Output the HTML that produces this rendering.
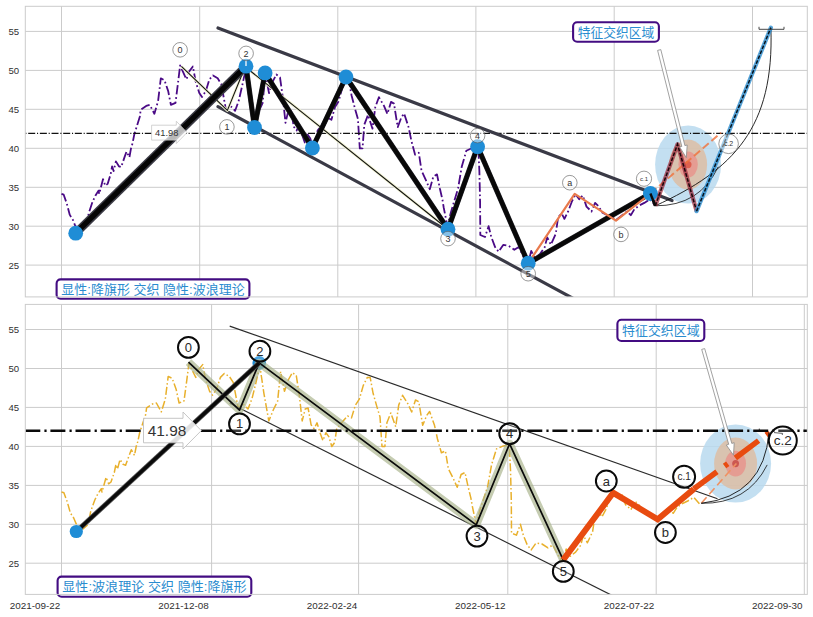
<!DOCTYPE html>
<html lang="zh"><head><meta charset="utf-8"><title>chart</title>
<style>html,body{margin:0;padding:0;background:#fff}svg{display:block}</style></head>
<body>
<svg width="813" height="617" viewBox="0 0 813 617" font-family="Liberation Sans, Noto Sans CJK SC, sans-serif">
<defs>
<clipPath id="ct"><rect x="25.3" y="6.3" width="782.0" height="290.59999999999997"/></clipPath>
<clipPath id="cb"><rect x="25.3" y="304.4" width="782.0" height="290.0"/></clipPath>
</defs>
<rect width="813" height="617" fill="#fff"/>
<line x1="25.3" x2="807.3" y1="31.4" y2="31.4" stroke="#cbcbcb" stroke-width="1"/>
<line x1="25.3" x2="807.3" y1="329.5" y2="329.5" stroke="#cbcbcb" stroke-width="1"/>
<line x1="25.3" x2="807.3" y1="70.4" y2="70.4" stroke="#cbcbcb" stroke-width="1"/>
<line x1="25.3" x2="807.3" y1="368.5" y2="368.5" stroke="#cbcbcb" stroke-width="1"/>
<line x1="25.3" x2="807.3" y1="109.3" y2="109.3" stroke="#cbcbcb" stroke-width="1"/>
<line x1="25.3" x2="807.3" y1="407.40000000000003" y2="407.40000000000003" stroke="#cbcbcb" stroke-width="1"/>
<line x1="25.3" x2="807.3" y1="148.3" y2="148.3" stroke="#cbcbcb" stroke-width="1"/>
<line x1="25.3" x2="807.3" y1="446.40000000000003" y2="446.40000000000003" stroke="#cbcbcb" stroke-width="1"/>
<line x1="25.3" x2="807.3" y1="187.3" y2="187.3" stroke="#cbcbcb" stroke-width="1"/>
<line x1="25.3" x2="807.3" y1="485.40000000000003" y2="485.40000000000003" stroke="#cbcbcb" stroke-width="1"/>
<line x1="25.3" x2="807.3" y1="226.2" y2="226.2" stroke="#cbcbcb" stroke-width="1"/>
<line x1="25.3" x2="807.3" y1="524.3" y2="524.3" stroke="#cbcbcb" stroke-width="1"/>
<line x1="25.3" x2="807.3" y1="265.1" y2="265.1" stroke="#cbcbcb" stroke-width="1"/>
<line x1="25.3" x2="807.3" y1="563.2" y2="563.2" stroke="#cbcbcb" stroke-width="1"/>
<line x1="61.5" x2="61.5" y1="6.3" y2="296.9" stroke="#cbcbcb" stroke-width="1"/>
<line x1="199.7" x2="199.7" y1="6.3" y2="296.9" stroke="#cbcbcb" stroke-width="1"/>
<line x1="337.8" x2="337.8" y1="6.3" y2="296.9" stroke="#cbcbcb" stroke-width="1"/>
<line x1="475.9" x2="475.9" y1="6.3" y2="296.9" stroke="#cbcbcb" stroke-width="1"/>
<line x1="614.2" x2="614.2" y1="6.3" y2="296.9" stroke="#cbcbcb" stroke-width="1"/>
<line x1="752.5" x2="752.5" y1="6.3" y2="296.9" stroke="#cbcbcb" stroke-width="1"/>
<line x1="61.5" x2="61.5" y1="304.4" y2="594.4" stroke="#cbcbcb" stroke-width="1"/>
<line x1="211.6" x2="211.6" y1="304.4" y2="594.4" stroke="#cbcbcb" stroke-width="1"/>
<line x1="358.6" x2="358.6" y1="304.4" y2="594.4" stroke="#cbcbcb" stroke-width="1"/>
<line x1="507.8" x2="507.8" y1="304.4" y2="594.4" stroke="#cbcbcb" stroke-width="1"/>
<line x1="656.2" x2="656.2" y1="304.4" y2="594.4" stroke="#cbcbcb" stroke-width="1"/>
<line x1="804.3" x2="804.3" y1="304.4" y2="594.4" stroke="#cbcbcb" stroke-width="1"/>
<g clip-path="url(#ct)">
<ellipse cx="688.1" cy="164.6" rx="33" ry="39" fill="#b9d9ef" fill-opacity="0.85"/>
<ellipse cx="688.1" cy="164.6" rx="19" ry="25" fill="#e0b99a" fill-opacity="0.75"/>
<ellipse cx="688.1" cy="164.6" rx="9.7" ry="13" fill="#e88f88" fill-opacity="0.75"/>
<ellipse cx="688.1" cy="164.6" rx="3.4" ry="3.6" fill="#dd5a48" fill-opacity="0.9"/>
<polyline points="61.5,193.9 63.7,194.7 66.8,203.6 69.8,214.9 72.9,219.9 75.1,225.5 77.8,228.9 81.5,230.9 86.4,226.3 88.7,213.3 92.5,201.9 95.5,195.5 98.5,190.6 99.2,193.9 103.0,179.2 105.3,185.7 107.6,183.9 110.6,174.4 112.1,166.3 113.6,171.1 115.9,161.4 118.9,166.3 121.2,167.1 124.2,158.1 126.5,151.6 129.4,157.3 131.0,148.4 132.5,143.5 134.3,134.4 139.8,116.7 140.7,109.8 146.2,105.9 149.8,104.9 154.4,113.8 158.1,101.0 160.8,78.3 164.5,80.3 168.2,91.1 170.9,104.9 175.5,102.9 178.2,81.3 180.1,65.5 184.6,75.4 186.5,79.3 189.2,71.4 192.9,66.5 195.6,81.3 199.3,93.1 202.0,97.0 205.8,91.1 209.4,79.3 213.0,75.4 217.7,78.3 221.3,84.2 224.0,99.0 225.9,109.8 230.4,105.9 235.1,110.8 238.7,100.9 242.3,85.2 246.1,67.5 249.9,95.2 254.4,122.8 259.0,110.9 262.6,103.1 265.4,73.6 269.0,93.2 272.8,81.4 276.4,74.5 280.0,77.5 282.8,97.2 285.5,122.8 288.3,110.9 291.0,109.9 293.8,126.7 296.6,130.6 299.3,124.7 302.1,134.6 304.8,142.5 307.6,134.6 310.3,138.5 313.1,148.4 315.8,144.4 317.6,130.6 322.2,124.7 327.7,117.8 331.4,119.8 335.0,107.0 338.7,101.1 342.4,87.3 346.0,79.5 348.8,79.5 351.5,95.2 355.1,109.0 357.9,118.8 359.8,148.4 362.5,148.4 364.3,124.7 368.0,114.9 372.5,128.7 375.3,107.0 378.9,97.2 384.0,105.9 387.4,113.9 391.0,101.9 394.0,103.6 397.7,127.2 401.4,117.3 404.1,113.4 408.6,127.2 411.4,140.9 415.1,154.7 418.8,152.8 421.5,170.5 426.0,180.3 429.8,189.2 433.4,176.4 437.0,174.4 439.8,188.2 442.5,200.0 443.7,207.5 447.4,226.2 451.0,211.9 458.1,188.2 461.8,166.5 466.3,150.8 472.8,147.8 478.3,146.9 479.4,171.9 480.1,201.9 480.3,235.0 485.0,237.0 488.6,226.2 491.3,237.0 495.0,246.9 498.6,251.8 503.2,244.9 508.7,245.9 514.3,249.8 518.8,246.9 523.4,256.7 527.0,262.6 528.2,263.2 531.2,250.9 534.9,258.2 540.0,254.0 544.7,247.2 547.2,237.3 550.9,244.7 555.8,233.6 558.2,216.4 561.9,214.0 564.4,218.9 568.1,211.5 571.8,201.7 575.5,194.3 579.2,199.2 582.8,195.5 586.5,206.6 591.5,211.5 595.1,202.9 598.8,206.6 602.5,212.7 607.4,215.2 612.4,217.7 616.0,220.1 622.2,215.2 627.1,211.5 630.8,215.2 634.5,209.0 639.4,205.4 644.3,202.9 650.0,199.2 655.3,205.8" fill="none" stroke="#4a0a86" stroke-width="1.8" stroke-dasharray="9.4 2.7 1.7 2.7" stroke-linejoin="round"/>
<line x1="25.3" x2="152" y1="133.3" y2="133.3" stroke="#111" stroke-width="1.15" stroke-dasharray="7 1.8 1.1 1.76" stroke-dashoffset="8.76"/>
<line x1="186" x2="807.3" y1="133.3" y2="133.3" stroke="#111" stroke-width="1.15" stroke-dasharray="7 1.8 1.1 1.76" stroke-dashoffset="6.2"/>
<line x1="218" y1="28" x2="672" y2="200.6" stroke="#3a3a46" stroke-width="3.2" stroke-linecap="round"/>
<line x1="218" y1="106.6" x2="672" y2="351.8" stroke="#3a3a46" stroke-width="3.2" stroke-linecap="round"/>
<polyline points="181.4,66.4 227.4,110.4 245.2,66.8 448.0,229.2" fill="none" stroke="#f1f2d2" stroke-width="2.8" stroke-linejoin="round"/>
<polyline points="181.4,66.4 227.4,110.4 245.2,66.8 448.0,229.2" fill="none" stroke="#111" stroke-width="1.1" stroke-linejoin="round"/>
<line x1="75.7" y1="233.2" x2="246" y2="66.2" stroke="#3a3a44" stroke-width="8.2"/>
<line x1="75.7" y1="233.2" x2="246" y2="66.2" stroke="#050505" stroke-width="5.2"/>
<polyline points="246.0,66.2 254.5,127.5 265.1,72.9 312.4,148.0 346.0,77.0 448.0,229.2 477.6,146.7 528.2,263.2 650.4,193.5" fill="none" stroke="#2a2a30" stroke-width="5.2" stroke-linejoin="round"/>
<polyline points="246.0,66.2 254.5,127.5 265.1,72.9 312.4,148.0 346.0,77.0 448.0,229.2 477.6,146.7 528.2,263.2 650.4,193.5" fill="none" stroke="#080808" stroke-width="4.2" stroke-linejoin="round"/>
<path d="M151.6,125.2 H176.3 V121.2 L187,132.5 L176.3,143.6 V140.1 H151.6 Z" fill="#ffffff" fill-opacity="0.72" stroke="#c8c8c8" stroke-width="0.8"/>
<text x="166.7" y="135.9" font-size="9.3" text-anchor="middle" fill="#333">41.98</text>
<polyline points="528.2,263.2 574.7,193.8 616.0,220.6 650.4,193.5" fill="none" stroke="#e9794c" stroke-width="2.2" stroke-linejoin="round"/>
<line x1="650.4" y1="193.5" x2="721" y2="132.7" stroke="#f0703a" stroke-opacity="0.8" stroke-width="2" stroke-dasharray="8 3.5"/>
<line x1="650.4" y1="193.5" x2="655.3" y2="205.8" stroke="#0a0a0a" stroke-width="3"/>
<path d="M655.3,205.8 C734.2,169.7 774.3,127.4 770.9,28" fill="none" stroke="#111" stroke-width="0.9"/>
<path d="M655.3,205.8 Q700,206 718.2,166.8" fill="none" stroke="#111" stroke-width="0.8"/>
<polyline points="655.3,205.8 677.5,144.3 696.6,211.2" fill="none" stroke="#9a2a3c" stroke-opacity="0.72" stroke-width="4.2" stroke-linejoin="round"/>
<polyline points="655.3,205.8 677.5,144.3 696.6,211.2" fill="none" stroke="#1a0508" stroke-width="1.5" stroke-dasharray="3.7 1.6"/>
<line x1="696.6" y1="211.2" x2="770.9" y2="27.6" stroke="#2e8fd1" stroke-opacity="0.8" stroke-width="4.2" stroke-linecap="round"/>
<line x1="696.6" y1="211.2" x2="770.9" y2="27.6" stroke="#06131d" stroke-width="1.5" stroke-dasharray="3.7 1.6"/>
<path d="M759,26.8 V29.3 H784 V26.8" fill="none" stroke="#333" stroke-width="0.9"/>
<circle cx="75.7" cy="233.2" r="7.4" fill="#1f8dd6"/>
<circle cx="246" cy="66.2" r="7.4" fill="#1f8dd6"/>
<circle cx="254.5" cy="127.5" r="7.4" fill="#1f8dd6"/>
<circle cx="265.1" cy="72.9" r="7.4" fill="#1f8dd6"/>
<circle cx="312.4" cy="148" r="7.4" fill="#1f8dd6"/>
<circle cx="346" cy="77" r="7.4" fill="#1f8dd6"/>
<circle cx="448" cy="229.2" r="7.4" fill="#1f8dd6"/>
<circle cx="477.6" cy="146.7" r="7.4" fill="#1f8dd6"/>
<circle cx="528.2" cy="263.2" r="7.4" fill="#1f8dd6"/>
<circle cx="650.4" cy="193.5" r="7.4" fill="#1f8dd6"/>
<line x1="650.4" y1="193.5" x2="655.3" y2="205.8" stroke="#0a0a0a" stroke-width="2.4"/>
<line x1="246" y1="60.5" x2="246" y2="66" stroke="#eaf4fb" stroke-width="1.4"/>
<path d="M657.6,50.4 L681.8,146.4 L679.6,146.9 L686.3,157.6 L687.2,145.0 L684.9,145.6 L660.8,49.6 Z" fill="#fff" stroke="#8a8a8a" stroke-width="0.8"/>
<circle cx="180.1" cy="49.8" r="7.3" fill="#fff" fill-opacity="0.45" stroke="#555" stroke-width="0.6"/>
<text x="180.1" y="52.9" font-size="9" text-anchor="middle" fill="#333">0</text>
<circle cx="226.9" cy="126.9" r="7.3" fill="#fff" fill-opacity="0.45" stroke="#555" stroke-width="0.6"/>
<text x="226.9" y="130.1" font-size="9" text-anchor="middle" fill="#333">1</text>
<circle cx="246.1" cy="53.4" r="7.3" fill="#fff" fill-opacity="0.45" stroke="#555" stroke-width="0.6"/>
<text x="246.1" y="56.5" font-size="9" text-anchor="middle" fill="#333">2</text>
<circle cx="448" cy="238.6" r="7.3" fill="#fff" fill-opacity="0.45" stroke="#555" stroke-width="0.6"/>
<text x="448" y="241.8" font-size="9" text-anchor="middle" fill="#333">3</text>
<circle cx="477.6" cy="135.6" r="7.3" fill="#fff" fill-opacity="0.45" stroke="#555" stroke-width="0.6"/>
<text x="477.6" y="138.8" font-size="9" text-anchor="middle" fill="#333">4</text>
<circle cx="528.2" cy="273.7" r="7.3" fill="#fff" fill-opacity="0.45" stroke="#555" stroke-width="0.6"/>
<text x="528.2" y="276.8" font-size="9" text-anchor="middle" fill="#333">5</text>
<circle cx="569.8" cy="182.7" r="7.3" fill="#fff" fill-opacity="0.45" stroke="#555" stroke-width="0.6"/>
<text x="569.8" y="185.8" font-size="9" text-anchor="middle" fill="#333">a</text>
<circle cx="621" cy="234.4" r="7.3" fill="#fff" fill-opacity="0.45" stroke="#555" stroke-width="0.6"/>
<text x="621" y="237.6" font-size="9" text-anchor="middle" fill="#333">b</text>
<circle cx="644" cy="178.7" r="7.6" fill="#fff" fill-opacity="0.45" stroke="#555" stroke-width="0.6"/>
<text x="644" y="180.8" font-size="6" text-anchor="middle" fill="#333">c.1</text>
<circle cx="728.6" cy="143.8" r="9.8" fill="#fff" fill-opacity="0.45" stroke="#555" stroke-width="0.6"/>
<text x="728.6" y="146.2" font-size="7" text-anchor="middle" fill="#333">c.2</text>
</g>
<rect x="56.6" y="279.4" width="192.8" height="19.400000000000034" rx="4" ry="4" fill="#fff" stroke="#430c82" stroke-width="2.1"/>
<text x="153.0" y="293.6" font-size="12.6" text-anchor="middle" fill="#2a8ccf" textLength="183.4" lengthAdjust="spacingAndGlyphs">显性:降旗形 交织 隐性:波浪理论</text>
<rect x="573.1" y="22.2" width="85.79999999999995" height="19.500000000000004" rx="4" ry="4" fill="#fff" stroke="#430c82" stroke-width="2.1"/>
<text x="616.0" y="36.5" font-size="12.6" text-anchor="middle" fill="#2a8ccf" textLength="76.4" lengthAdjust="spacingAndGlyphs">特征交织区域</text>
<g clip-path="url(#cb)">
<ellipse cx="735.6" cy="463.6" rx="35.5" ry="39" fill="#b9d9ef" fill-opacity="0.85"/>
<ellipse cx="735.6" cy="463.6" rx="21.5" ry="26" fill="#e0b99a" fill-opacity="0.75"/>
<ellipse cx="735.6" cy="463.6" rx="10.4" ry="12.8" fill="#e88f88" fill-opacity="0.75"/>
<ellipse cx="735.6" cy="463.6" rx="3.4" ry="3.6" fill="#c9504a" fill-opacity="0.9"/>
<polyline points="61.5,492.0 63.9,492.8 67.2,501.7 70.4,513.0 73.7,518.0 76.1,523.6 79.0,527.0 83.0,529.0 88.3,524.4 90.7,511.4 94.8,500.0 98.0,493.6 101.3,488.7 102.0,492.0 106.1,477.3 108.6,483.8 111.0,482.0 114.3,472.5 115.9,464.4 117.5,469.2 120.0,459.5 123.2,464.4 125.6,465.2 128.9,456.2 131.3,449.7 134.5,455.4 136.2,446.5 137.8,441.6 139.7,432.5 145.6,414.8 146.6,407.9 152.5,404.0 156.4,403.0 161.3,411.9 165.3,399.1 168.2,376.4 172.2,378.4 176.1,389.2 179.1,403.0 184.0,401.0 186.9,379.4 188.9,363.6 193.8,373.5 195.8,377.4 198.7,369.5 202.7,364.6 205.6,379.4 209.6,391.2 212.5,395.1 216.5,389.2 220.4,377.4 224.3,373.5 229.3,376.4 233.2,382.3 236.1,397.1 238.1,407.9 243.0,404.0 248.0,408.9 251.9,399.0 255.8,383.3 259.8,365.6 263.9,393.3 268.8,420.9 273.7,409.0 277.6,401.2 280.6,371.7 284.5,391.3 288.5,379.5 292.4,372.6 296.3,375.6 299.3,395.3 302.2,420.9 305.2,409.0 308.1,408.0 311.1,424.8 314.1,428.7 317.0,422.8 320.0,432.7 322.9,440.6 325.9,432.7 328.8,436.6 331.8,446.5 334.7,442.5 336.7,428.7 341.6,422.8 347.5,415.9 351.5,417.9 355.4,405.1 359.3,399.2 363.3,385.4 367.2,377.6 370.2,377.6 373.1,393.3 377.0,407.1 380.0,416.9 382.0,446.5 384.9,446.5 386.9,422.8 390.8,413.0 395.7,426.8 398.7,405.1 402.6,395.3 408.0,404.0 411.7,412.0 415.5,400.0 418.8,401.7 422.7,425.3 426.7,415.4 429.6,411.5 434.5,425.3 437.5,439.0 441.4,452.8 445.4,450.9 448.3,468.6 453.2,478.4 457.2,487.3 461.1,474.5 465.0,472.5 468.0,486.3 470.9,498.1 472.2,505.6 476.1,524.3 480.0,510.0 487.7,486.3 491.6,464.6 496.5,448.9 503.4,445.9 509.3,445.0 510.5,470.0 511.3,500.0 511.5,533.1 516.5,535.1 520.4,524.3 523.3,535.1 527.3,545.0 531.2,549.9 536.1,543.0 542.0,544.0 548.0,547.9 552.9,545.0 557.8,554.8 561.7,560.7 563.0,561.3 566.2,549.0 570.2,556.3 575.6,552.1 580.7,545.3 583.4,535.4 587.4,542.8 592.6,531.7 595.2,514.5 599.2,512.1 601.9,517.0 605.8,509.6 609.8,499.8 613.8,492.4 617.8,497.3 621.6,493.6 625.6,504.7 631.0,509.6 634.9,501.0 638.8,504.7 642.8,510.8 648.1,513.3 653.4,515.8 657.3,518.2 664.0,513.3 669.2,509.6 673.2,513.3 677.2,507.1 682.5,503.5 687.7,501.0 693.8,497.3 699.5,503.9" fill="none" stroke="#e8b02c" stroke-width="1.5" stroke-dasharray="8 2.4 1.5 2.4" stroke-linejoin="round"/>
<line x1="229.7" y1="326.1" x2="717.5" y2="498.7" stroke="#2a2a2a" stroke-width="1.2"/>
<line x1="229.7" y1="403.2" x2="717.5" y2="648.4" stroke="#2a2a2a" stroke-width="1.2"/>
<circle cx="259.2" cy="362.9" r="6.8" fill="#1f8dd6"/>
<polyline points="188.5,362.2 239.5,410.1 259.2,362.9 476.2,524.9 509.6,443.8 563.2,559.9" fill="none" stroke="#aab48c" stroke-opacity="0.68" stroke-width="8" stroke-linejoin="round"/>
<polyline points="188.5,362.2 239.5,410.1 259.2,362.9 476.2,524.9 509.6,443.8 563.2,559.9" fill="none" stroke="#0a0a0a" stroke-width="1.7" stroke-linejoin="round"/>
<line x1="76.3" y1="531.5" x2="259.2" y2="362.9" stroke="#555" stroke-width="5"/>
<line x1="76.3" y1="531.5" x2="259.2" y2="362.9" stroke="#0a0a0a" stroke-width="3.4"/>
<circle cx="76.3" cy="531.5" r="6.6" fill="#1f8dd6"/>
<polyline points="563.2,559.9 613.2,492.8 657.7,519.3 693.7,489.1" fill="none" stroke="#e84b10" stroke-width="6" stroke-linejoin="miter"/>
<line x1="693.7" y1="489.1" x2="769.6" y2="432.4" stroke="#e84b10" stroke-width="5.6" stroke-dasharray="29 9.5 4 9.5"/>
<line x1="701.3" y1="503.3" x2="736.4" y2="463.5" stroke="#f09060" stroke-width="1.6" stroke-dasharray="8 4"/>
<path d="M701.3,503.3 Q764,496 769,432.3" fill="none" stroke="#111" stroke-width="0.9"/>
<path d="M701.3,503.3 Q747.6,504.1 767.2,464.9" fill="none" stroke="#111" stroke-width="0.8"/>
<path d="M759.3,428.6 V431.3 M774,432.6 L782.6,433.4 L782.2,435" fill="none" stroke="#222" stroke-width="0.9"/>
<line x1="25.3" x2="144" y1="430.8" y2="430.8" stroke="#0a0a0a" stroke-width="2.5" stroke-dasharray="15 4.1 2.2 3.8"/>
<line x1="200" x2="807.3" y1="430.8" y2="430.8" stroke="#0a0a0a" stroke-width="2.5" stroke-dasharray="15 4.1 2.2 3.8" stroke-dashoffset="24.1"/>
<path d="M143.5,418.3 H183 V412 L201.3,430.6 L183,449 V442.8 H143.5 Z" fill="#ffffff" fill-opacity="0.87" stroke="#c0c0c0" stroke-width="0.9"/>
<text x="167" y="436" font-size="15.4" text-anchor="middle" fill="#333">41.98</text>
<path d="M701.7,349.4 L728.7,444.3 L726.3,445.0 L733.5,455.2 L734.2,442.7 L731.8,443.4 L704.7,348.6 Z" fill="#fff" stroke="#8a8a8a" stroke-width="0.8"/>
<circle cx="188.4" cy="347.4" r="10.4" fill="#fff" fill-opacity="0.2" stroke="#0a0a0a" stroke-width="2"/>
<text x="188.4" y="351.9" font-size="13" text-anchor="middle" fill="#2a2a2a">0</text>
<circle cx="239.5" cy="423.9" r="10.4" fill="#fff" fill-opacity="0.2" stroke="#0a0a0a" stroke-width="2"/>
<text x="239.5" y="428.4" font-size="13" text-anchor="middle" fill="#2a2a2a">1</text>
<circle cx="259.9" cy="351.2" r="10.4" fill="#fff" fill-opacity="0.2" stroke="#0a0a0a" stroke-width="2"/>
<text x="259.9" y="355.8" font-size="13" text-anchor="middle" fill="#2a2a2a">2</text>
<circle cx="477" cy="536.1" r="10.4" fill="#fff" fill-opacity="0.2" stroke="#0a0a0a" stroke-width="2"/>
<text x="477" y="540.6" font-size="13" text-anchor="middle" fill="#2a2a2a">3</text>
<circle cx="509.7" cy="433.6" r="10.4" fill="#fff" fill-opacity="0.2" stroke="#0a0a0a" stroke-width="2"/>
<text x="509.7" y="438.2" font-size="13" text-anchor="middle" fill="#2a2a2a">4</text>
<circle cx="563.3" cy="571.4" r="10.4" fill="#fff" fill-opacity="0.2" stroke="#0a0a0a" stroke-width="2"/>
<text x="563.3" y="575.9" font-size="13" text-anchor="middle" fill="#2a2a2a">5</text>
<circle cx="606.3" cy="481" r="10.4" fill="#fff" fill-opacity="0.2" stroke="#0a0a0a" stroke-width="2"/>
<text x="606.3" y="485.6" font-size="13" text-anchor="middle" fill="#2a2a2a">a</text>
<circle cx="665.4" cy="532.5" r="10.4" fill="#fff" fill-opacity="0.2" stroke="#0a0a0a" stroke-width="2"/>
<text x="665.4" y="537.0" font-size="13" text-anchor="middle" fill="#2a2a2a">b</text>
<circle cx="684.1" cy="476.8" r="11" fill="#fff" fill-opacity="0.2" stroke="#0a0a0a" stroke-width="2"/>
<text x="684.1" y="480.3" font-size="10" text-anchor="middle" fill="#2a2a2a">c.1</text>
<circle cx="782.8" cy="440.6" r="14" fill="#fff" fill-opacity="0.2" stroke="#0a0a0a" stroke-width="2"/>
<text x="782.8" y="445.3" font-size="13.5" text-anchor="middle" fill="#2a2a2a">c.2</text>
</g>
<rect x="617.4" y="319.8" width="86.89999999999998" height="21.19999999999999" rx="4" ry="4" fill="#fff" stroke="#430c82" stroke-width="2.1"/>
<text x="660.8499999999999" y="334.9" font-size="12.6" text-anchor="middle" fill="#2a8ccf" textLength="77.5" lengthAdjust="spacingAndGlyphs">特征交织区域</text>
<rect x="57.6" y="576.6" width="193.70000000000002" height="20.199999999999932" rx="4" ry="4" fill="#fff" stroke="#430c82" stroke-width="2.1"/>
<text x="154.45000000000002" y="591.2" font-size="12.6" text-anchor="middle" fill="#2a8ccf" textLength="184.3" lengthAdjust="spacingAndGlyphs">显性:波浪理论 交织 隐性:降旗形</text>
<rect x="25.3" y="6.3" width="782.0" height="290.59999999999997" fill="none" stroke="#cbcbcb" stroke-width="1"/>
<rect x="25.3" y="304.4" width="782.0" height="290.0" fill="none" stroke="#cbcbcb" stroke-width="1"/>
<text x="19.2" y="34.9" font-size="9.6" text-anchor="end" fill="#303030">55</text>
<text x="19.2" y="333.0" font-size="9.6" text-anchor="end" fill="#303030">55</text>
<text x="19.2" y="73.9" font-size="9.6" text-anchor="end" fill="#303030">50</text>
<text x="19.2" y="372.0" font-size="9.6" text-anchor="end" fill="#303030">50</text>
<text x="19.2" y="112.8" font-size="9.6" text-anchor="end" fill="#303030">45</text>
<text x="19.2" y="410.9" font-size="9.6" text-anchor="end" fill="#303030">45</text>
<text x="19.2" y="151.8" font-size="9.6" text-anchor="end" fill="#303030">40</text>
<text x="19.2" y="449.9" font-size="9.6" text-anchor="end" fill="#303030">40</text>
<text x="19.2" y="190.8" font-size="9.6" text-anchor="end" fill="#303030">35</text>
<text x="19.2" y="488.9" font-size="9.6" text-anchor="end" fill="#303030">35</text>
<text x="19.2" y="229.7" font-size="9.6" text-anchor="end" fill="#303030">30</text>
<text x="19.2" y="527.8" font-size="9.6" text-anchor="end" fill="#303030">30</text>
<text x="19.2" y="268.6" font-size="9.6" text-anchor="end" fill="#303030">25</text>
<text x="19.2" y="566.7" font-size="9.6" text-anchor="end" fill="#303030">25</text>
<text x="35" y="609.2" font-size="9.9" text-anchor="middle" fill="#303030">2021-09-22</text>
<text x="183.5" y="609.2" font-size="9.9" text-anchor="middle" fill="#303030">2021-12-08</text>
<text x="332" y="609.2" font-size="9.9" text-anchor="middle" fill="#303030">2022-02-24</text>
<text x="480.3" y="609.2" font-size="9.9" text-anchor="middle" fill="#303030">2022-05-12</text>
<text x="629" y="609.2" font-size="9.9" text-anchor="middle" fill="#303030">2022-07-22</text>
<text x="777.2" y="609.2" font-size="9.9" text-anchor="middle" fill="#303030">2022-09-30</text>
</svg>
</body></html>
